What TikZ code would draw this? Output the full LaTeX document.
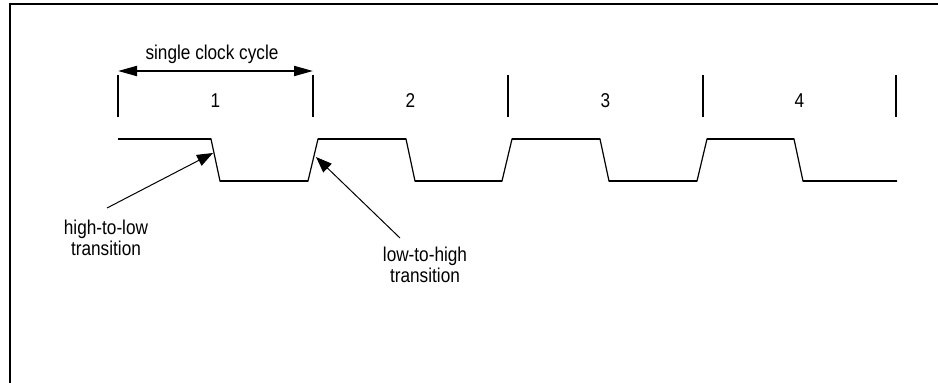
\documentclass[tikz,border=0pt]{standalone}
\usepackage{fontspec}
\setmainfont{Liberation Sans}[FakeStretch=0.86]
\usetikzlibrary{arrows.meta}
\begin{document}
\begin{tikzpicture}[x=1pt,y=-1pt,
  lbl/.style={font=\fontsize{20}{21.5}\selectfont, inner sep=0pt, align=center},
  tickline/.style={line width=2pt},
  wavethin/.style={line width=1.2pt, line join=miter},
  wavethick/.style={line width=2pt},
  ptr/.style={line width=1pt, -{Triangle[length=16pt,width=12pt]}},
  dimline/.style={line width=2pt, {Triangle[length=19pt,width=10pt]}-{Triangle[length=19pt,width=10pt]}},
  framel/.style={line width=2.5pt}]
\useasboundingbox (0,0) rectangle (938,383);
% frame (cut off at right and bottom)
\draw[framel] (10,395) -- (10,4) -- (950,4);
% ticks
\foreach \x [count=\i] in {118,313,508,703,896}{
  \coordinate (ta\i) at (\x,75);
  \coordinate (tb\i) at (\x,117);
  \draw[tickline] (ta\i) -- (tb\i);
}
% cycle numbers
\node[lbl, anchor=base] (n1) at (215.5,107) {1};
\node[lbl, anchor=base] (n2) at (410.5,107) {2};
\node[lbl, anchor=base] (n3) at (605.5,107) {3};
\node[lbl, anchor=base] (n4) at (799.5,107) {4};
% dimension arrow
\coordinate (d0) at (118,71);
\coordinate (d1) at (313,71);
\draw[dimline] (d0) -- (d1);
\node[lbl, anchor=base] (scc) at (212,59) {single clock cycle};
% waveform
\draw[wavethin] (118,139) -- (211,139) -- (220,181) -- (308,181) -- (318,139) -- (406,139)
  -- (415,181) -- (502,181) -- (512,139) -- (600,139) -- (609,181) -- (697,181)
  -- (707,139) -- (794,139) -- (803,181) -- (897,181);
\draw[wavethick] (118,139) -- (211,139) (220,181) -- (308,181) (318,139) -- (406,139)
  (415,181) -- (502,181) (512,139) -- (600,139) (609,181) -- (697,181)
  (707,139) -- (794,139) (803,181) -- (897,181);
% labels
\node[lbl] (hl) at (106,238) {high-to-low\\transition};
\node[lbl] (lh) at (425,265) {low-to-high\\transition};
\coordinate (hlfrom) at (107,208);
\coordinate (hlto) at (213,153);
\coordinate (lhfrom) at (400,238);
\coordinate (lhto) at (316,157);
\draw[ptr] (hlfrom) -- (hlto);
\draw[ptr] (lhfrom) -- (lhto);
\end{tikzpicture}
\end{document}
